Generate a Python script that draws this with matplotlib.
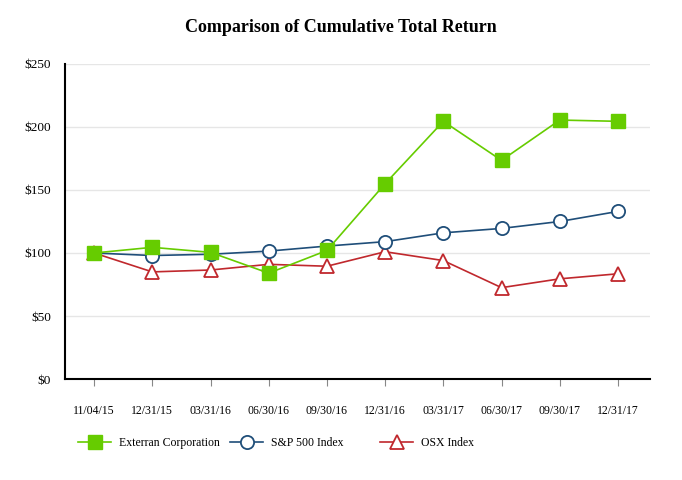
import matplotlib
matplotlib.use('Agg')
import matplotlib.pyplot as plt

dates = ['11/04/15', '12/31/15', '03/31/16', '06/30/16', '09/30/16',
         '12/31/16', '03/31/17', '06/30/17', '09/30/17', '12/31/17']
exterran = [100, 104.5, 100.5, 84, 102, 155, 204.5, 173.5, 205.5, 204.5]
sp500 = [100, 98, 99, 101.5, 105.5, 109, 116, 119.5, 125, 133]
osx = [100, 85, 86.5, 91, 89.5, 101, 94, 72.5, 79.5, 83.5]
yticks = [0, 50, 100, 150, 200, 250]

plt.rcParams['font.family'] = ['Liberation Serif', 'DejaVu Serif']

fig = plt.figure(figsize=(6.82, 4.80), dpi=100)
ax = fig.add_axes([0.0953, 0.2104, 0.8577, 0.6563])

x = range(len(dates))
l1, = ax.plot(x, exterran, color='#66cc00', lw=1.2, marker='s', ms=9.5,
              mfc='#66cc00', mec='#66cc00', label='Exterran Corporation', zorder=3)
l2, = ax.plot(x, sp500, color='#1f4e79', lw=1.2, marker='o', ms=9.5,
              mfc='white', mec='#1f4e79', mew=1.3, label='S&P 500 Index', zorder=2)
l3, = ax.plot(x, osx, color='#c0282d', lw=1.2, marker='^', ms=10,
              mfc='white', mec='#c0282d', mew=1.3, label='OSX Index', zorder=1)

ax.set_xlim(-0.5, 9.55)
ax.set_ylim(0, 250)
ax.set_xticks(list(x))
ax.set_xticklabels(dates, fontsize=8.5)
ax.set_yticks(yticks)
ax.set_yticklabels(['$%d' % v for v in yticks], fontsize=9.5)
ax.yaxis.grid(True, color='#e6e6e6', lw=1)
ax.set_axisbelow(True)
ax.tick_params(axis='y', length=0, pad=10)
ax.tick_params(axis='x', length=5, color='#888888', pad=14)
for s in ['top', 'right']:
    ax.spines[s].set_visible(False)
for s in ['left', 'bottom']:
    ax.spines[s].set_linewidth(1.5)
    ax.spines[s].set_color('black')

fig.suptitle('Comparison of Cumulative Total Return', fontsize=13,
             fontweight='bold', y=0.96)

# one legend per series, placed like the original
for line, xpos in [(l1, 78), (l2, 230), (l3, 380)]:
    fig.legend(handles=[line], loc='center left',
               bbox_to_anchor=(xpos / 682.0, 1 - 443 / 480.0),
               frameon=False, fontsize=8.5, handlelength=2.8,
               handletextpad=0.7, borderpad=0, borderaxespad=0)

plt.savefig('out.png', dpi=100)
